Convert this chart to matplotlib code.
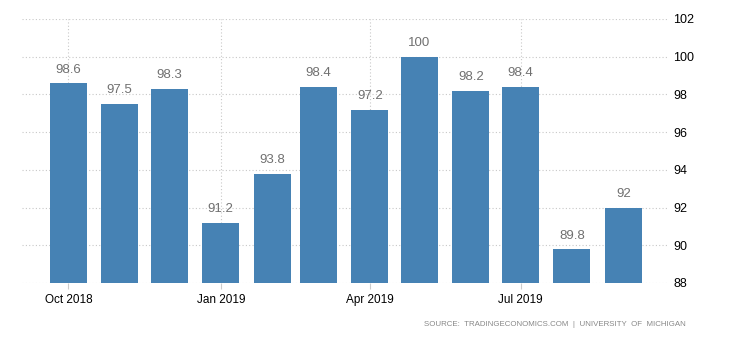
import datetime as dt
import matplotlib.pyplot as plt
import matplotlib.dates as mdates

plt.rcParams['font.family'] = ['Liberation Sans', 'DejaVu Sans']

# monthly index values
months = [dt.date(2018, 10, 1), dt.date(2018, 11, 1), dt.date(2018, 12, 1),
          dt.date(2019, 1, 1), dt.date(2019, 2, 1), dt.date(2019, 3, 1),
          dt.date(2019, 4, 1), dt.date(2019, 5, 1), dt.date(2019, 6, 1),
          dt.date(2019, 7, 1), dt.date(2019, 8, 1), dt.date(2019, 9, 1)]
values = [98.6, 97.5, 98.3, 91.2, 93.8, 98.4, 97.2, 100, 98.2, 98.4, 89.8, 92]
labels = ['98.6', '97.5', '98.3', '91.2', '93.8', '98.4', '97.2', '100',
          '98.2', '98.4', '89.8', '92']
tick_dates = [dt.date(2018, 10, 1), dt.date(2019, 1, 1),
              dt.date(2019, 4, 1), dt.date(2019, 7, 1)]
tick_labels = ['Oct 2018', 'Jan 2019', 'Apr 2019', 'Jul 2019']

fig = plt.figure(figsize=(7.3, 3.4), dpi=100)
ax = fig.add_axes([22 / 730, 1 - 283 / 340, (668 - 22) / 730, (283 - 19) / 340])

x = mdates.date2num(months)
ax.bar(x, [v - 88 for v in values], bottom=88, width=22.4, color='#4682b4', zorder=2)
for xi, v, s in zip(x, values, labels):
    ax.text(xi, v + 0.4, s, ha='center', va='bottom', fontsize=9.5, color='#707070')

ax.set_ylim(88, 102)
ax.set_yticks(range(88, 103, 2))
ax.set_xlim(mdates.date2num(dt.date(2018, 9, 3)), mdates.date2num(dt.date(2019, 9, 28)))
ax.set_xticks(mdates.date2num(tick_dates))
ax.set_xticklabels(tick_labels)

ax.yaxis.tick_right()
ax.tick_params(axis='y', length=0, labelsize=9, pad=4, colors='black')
ax.tick_params(axis='x', length=4, color='#cccccc', labelsize=8.5, pad=4)
ax.grid(True, linestyle=(0, (1, 2)), color='#c8c8c8', linewidth=0.8, zorder=0)
ax.set_axisbelow(True)
for sp in ax.spines.values():
    sp.set_visible(False)

fig.text(686 / 730, 1 - 325 / 340, 'SOURCE:  TRADINGECONOMICS.COM  |  UNIVERSITY  OF  MICHIGAN',
         ha='right', va='center', fontsize=5.7, color='#888888')

fig.savefig('out.png', dpi=100)
